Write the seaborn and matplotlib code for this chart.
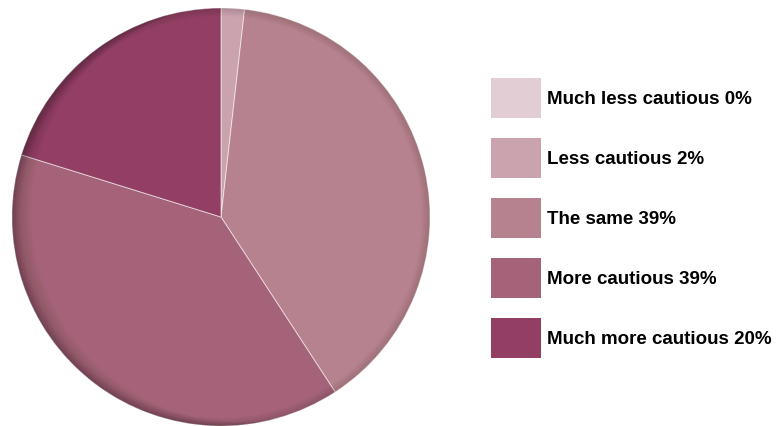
import numpy as np
import seaborn as sns
import matplotlib.pyplot as plt
from matplotlib.patches import Wedge, Circle

categories = ['Much less cautious', 'Less cautious', 'The same',
              'More cautious', 'Much more cautious']
shares = [0.0, 1.8, 39.0, 39.0, 20.2]
pct_labels = ['0%', '2%', '39%', '39%', '20%']
colors = ['#E3CDD4', '#CBA3AF', '#B6828F', '#A46378', '#923F63']

sns.set_theme(style='white')
plt.rcParams['font.family'] = ['Liberation Sans', 'DejaVu Sans']

fig = plt.figure(figsize=(7.77, 4.26), dpi=100)
ax = fig.add_axes([12 / 777, 0, 418 / 777, 418 / 426])

pal = sns.color_palette(colors)
wedges, _ = ax.pie(shares, colors=pal, startangle=90, counterclock=False,
                   radius=1,
                   wedgeprops=dict(edgecolor=(1, 1, 1, 0.55), linewidth=0.7))

# soft darkening toward the rim, stronger on the left
clip = Circle((0, 0), 1.0, transform=ax.transData)
for k in range(1, 9):
    ring = Wedge((0, 0), 1.0, 0, 360, width=k * 0.005,
                 facecolor='black', alpha=0.014, linewidth=0)
    ax.add_patch(ring)
for d in np.linspace(0.01, 0.09, 9):
    cres = Wedge((d, 0.02 * d / 0.09), 2.5, 0, 360, width=1.5,
                 facecolor='black', alpha=0.02, linewidth=0)
    ax.add_patch(cres)
    cres.set_clip_path(clip)

ax.set_xlim(-1, 1)
ax.set_ylim(-1, 1)
ax.set_aspect('equal')
ax.axis('off')

labels = [f'{c} {p}' for c, p in zip(categories, pct_labels)]
fs = 13.5
px = fs * 100 / 72
hh = (40 / px - 0.245) / 0.65
leg = fig.legend(wedges, labels, loc='upper left',
                 bbox_to_anchor=(491 / 777, 1 - 78 / 426),
                 frameon=False, prop=dict(weight='bold', size=fs),
                 handlelength=50 / px, handleheight=hh,
                 labelspacing=20 / px, handletextpad=6 / px,
                 borderpad=0, borderaxespad=0)
for h in leg.legend_handles:
    h.set_edgecolor('none')
for t in leg.get_texts():
    t.set_color('black')

fig.savefig('out.png', dpi=100)
